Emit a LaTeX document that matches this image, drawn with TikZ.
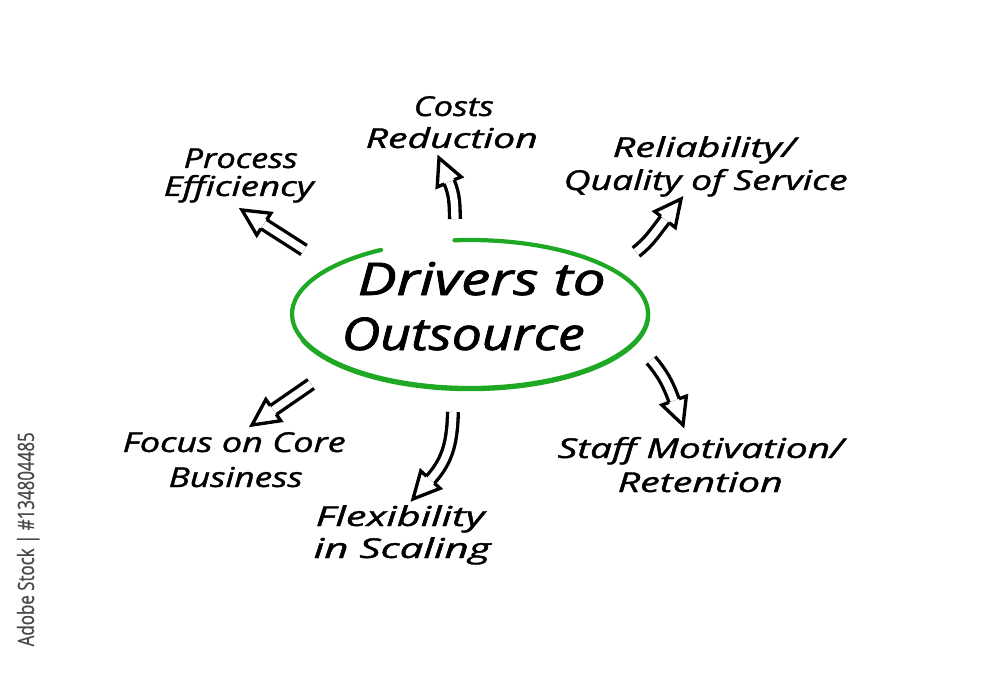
\documentclass[tikz,border=0pt]{standalone}
\usepackage{fontspec}
\setmainfont{Open Sans}
\newfontfamily\handfont{Open Sans}[FakeBold=1.2]
\newfontfamily\bighand{Open Sans}[FakeBold=1.6]
\newfontfamily\wmfont{Open Sans}[FakeBold=0.8]
\usepackage{graphicx}
\usetikzlibrary{calc}
\definecolor{ringgreen}{RGB}{30,168,36}
\definecolor{wmgray}{RGB}{72,72,72}
\newcommand\fitw[2]{\resizebox{#1}{\height}{#2}}
\newcommand\arsw{1.5pt}
\newcommand\arhw{3.7pt}
\newcommand\arhl{7.4pt}
% #1 name, #2 tail, #3 out angle, #4 tip, #5 head angle
\newcommand\harrow[5]{%
  \coordinate (#1-tail) at #2;
  \coordinate (#1-tip) at #4;
  \path (#1-tip) ++(#5+180:\arhl) coordinate (#1-base);
  \pgfmathsetmacro\harrowin{#5+180}
  \draw[shaftst] (#1-tail) to[out=#3,in=\harrowin] (#1-base);
  \draw[headst, shift={(#1-base)}, rotate=#5]
    (0pt,-\arsw) -- (0pt,-\arhw) -- (\arhl,0pt) -- (0pt,\arhw) -- (0pt,\arsw);
}
\tikzset{
  lbl/.style={inner sep=0pt, anchor=base west, font=\handfont\fontsize{7.8}{9}\selectfont\itshape},
  mainlbl/.style={inner sep=0pt, anchor=base west, font=\bighand\fontsize{12.8}{15}\selectfont\itshape},
  shaftst/.style={draw=black, line width=0.95pt, double=white, double distance=2.1pt},
  headst/.style={draw=black, line width=0.95pt, line join=miter},
  ring/.style={draw=ringgreen, line width=1.2pt, line cap=round},
}
\begin{document}
\begin{tikzpicture}
\useasboundingbox (0,0) rectangle (10,6.75);
\fill[white] (0,0) rectangle (10,6.75);

% green hand-drawn ellipse
\draw[ring] (4.70,3.61) ++(95:1.78 and 0.74)
  arc[start angle=95, end angle=-240, x radius=1.78, y radius=0.74];
\draw[ring, line width=0.7pt] (4.70,3.60) ++(35:1.79 and 0.75)
  arc[start angle=35, end angle=-160, x radius=1.79, y radius=0.75];

% centre text
\node[mainlbl] (drv1) at (3.57,3.80) {\fitw{2.48cm}{Drivers to}};
\node[mainlbl] (drv2) at (3.41,3.25) {\fitw{2.43cm}{Outsource}};

% labels
\node[lbl] (cost1) at (4.13,5.59) {\fitw{0.80cm}{Costs}};
\node[lbl] (cost2) at (3.65,5.27) {\fitw{1.72cm}{Reduction}};
\node[lbl] (proc1) at (1.83,5.07) {\fitw{1.14cm}{Process}};
\node[lbl] (proc2) at (1.63,4.79) {\fitw{1.50cm}{Efficiency}};
\node[lbl] (rel1) at (6.12,5.18) {\fitw{1.83cm}{Reliability/}};
\node[lbl] (rel2) at (5.63,4.85) {\fitw{2.84cm}{Quality of Service}};
\node[lbl] (foc1) at (1.22,2.23) {\fitw{2.23cm}{Focus on Core}};
\node[lbl] (foc2) at (1.68,1.88) {\fitw{1.34cm}{Business}};
\node[lbl] (flx1) at (3.15,1.49) {\fitw{1.69cm}{Flexibility}};
\node[lbl] (flx2) at (3.13,1.17) {\fitw{1.77cm}{in Scaling}};
\node[lbl] (stf1) at (5.57,2.17) {\fitw{2.86cm}{Staff Motivation/}};
\node[lbl] (stf2) at (6.17,1.83) {\fitw{1.65cm}{Retention}};

% hollow arrows
\harrow{aproc}{(3.04,4.25)}{147}{(2.42,4.65)}{147}
\harrow{acost}{(4.55,4.56)}{92}{(4.39,5.17)}{113}
\harrow{arel}{(6.36,4.23)}{38}{(6.81,4.76)}{52}
\harrow{afoc}{(3.11,2.91)}{215}{(2.52,2.50)}{215}
\harrow{aflx}{(4.53,2.63)}{268}{(4.13,1.76)}{228}
\harrow{astf}{(6.51,3.15)}{310}{(6.83,2.50)}{290}

% side watermark text
\node[inner sep=0pt, anchor=base west, rotate=90, text=wmgray,
  font=\wmfont\fontsize{6.4}{7}\selectfont] (wm) at (0.34,0.28)
  {\fitw{2.14cm}{Adobe Stock | \#134804485}};
\end{tikzpicture}
\end{document}
